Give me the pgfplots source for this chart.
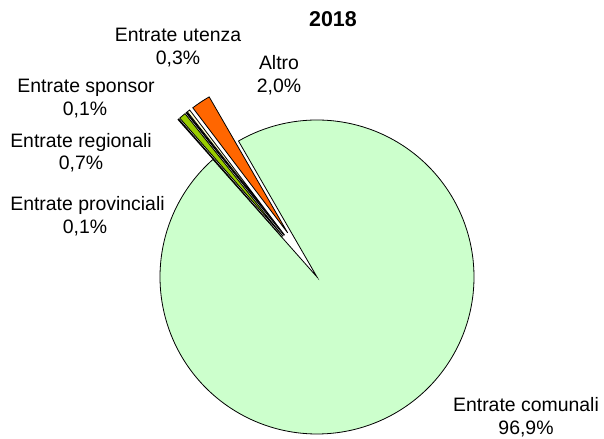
\documentclass[border=0pt]{standalone}
\usepackage{pgfplots}
\pgfplotsset{compat=1.18}
\usepackage{fontspec}
\setmainfont{Liberation Sans}
\definecolor{cCom}{HTML}{CCFFCC}
\definecolor{cProv}{HTML}{FFFF99}
\definecolor{cReg}{HTML}{99CC00}
\definecolor{cSpo}{HTML}{CC99FF}
\definecolor{cUte}{HTML}{FFFFCC}
\definecolor{cAlt}{HTML}{FF6600}
\newcommand{\lbl}{\fontsize{19.5}{23}\selectfont}
\begin{document}
\begin{tikzpicture}
% data (percent)
\def\vCom{96.9}\def\vProv{0.1}\def\vReg{0.7}\def\vSpo{0.1}\def\vUte{0.3}\def\vAlt{2.0}
\pgfmathsetmacro{\tot}{\vCom+\vProv+\vReg+\vSpo+\vUte+\vAlt}
\pgfmathsetmacro{\aS}{120}
\pgfmathsetmacro{\aComL}{\aS-360*(\vCom/\tot)}
\pgfmathsetmacro{\aAltH}{\aS+360*(\vAlt/\tot)}
\pgfmathsetmacro{\aUteH}{\aAltH+360*(\vUte/\tot)}
\pgfmathsetmacro{\aSpoH}{\aUteH+360*(\vSpo/\tot)}
\pgfmathsetmacro{\aRegH}{\aSpoH+360*(\vReg/\tot)}
\pgfmathsetmacro{\aProvH}{\aRegH+360*(\vProv/\tot)}
\def\R{157}
\def\E{53}
\newcommand{\slice}[3]{%
  \pgfmathsetmacro{\dx}{\E*cos((#1+#2)/2)}%
  \pgfmathsetmacro{\dy}{\E*sin((#1+#2)/2)}%
  \edef\doplot{\noexpand\addplot[fill=#3,draw=black,line width=0.8bp,domain=#1:#2,samples=6,variable=\noexpand\t]
    ({\dx+\R*cos(\noexpand\t)},{\dy+\R*sin(\noexpand\t)}) -- (axis cs:\dx,\dy) -- cycle;}%
  \doplot}
\newcommand{\lab}[3]{\node[anchor=base,inner sep=0pt,font=\lbl] at (axis cs:#1,#2) {#3};}
\begin{axis}[x=1bp,y=1bp,xmin=-317,xmax=287,ymin=-162,ymax=277,
  hide axis,clip=false,scale only axis]
\addplot[fill=cCom,draw=black,line width=0.8bp,domain=\aComL:\aS,samples=300,variable=\t]
  ({\R*cos(\t)},{\R*sin(\t)}) -- (axis cs:0,0) -- cycle;
\slice{\aS}{\aAltH}{cAlt}
\slice{\aAltH}{\aUteH}{cUte}
\slice{\aUteH}{\aSpoH}{cSpo}
\slice{\aSpoH}{\aRegH}{cReg}
\slice{\aRegH}{\aProvH}{cProv}
\node[anchor=base,inner sep=0pt,font=\fontsize{21.5}{25}\selectfont\bfseries] at (axis cs:16,250.5) {2018};
\lab{-139}{235.3}{Entrate utenza}
\lab{-139}{212.5}{0,3\%}
\lab{-38}{207}{Altro}
\lab{-38}{184.3}{2,0\%}
\lab{-231}{184}{Entrate sponsor}
\lab{-232}{161.5}{0,1\%}
\lab{-236}{129.5}{Entrate regionali}
\lab{-236}{107}{0,7\%}
\lab{-229.5}{66}{Entrate provinciali}
\lab{-232}{43.5}{0,1\%}
\lab{209}{-135}{Entrate comunali}
\lab{209}{-157.5}{96,9\%}
\end{axis}
\pgfresetboundingbox
\path[use as bounding box] (current axis.south west) rectangle (current axis.north east);
\end{tikzpicture}
\end{document}
